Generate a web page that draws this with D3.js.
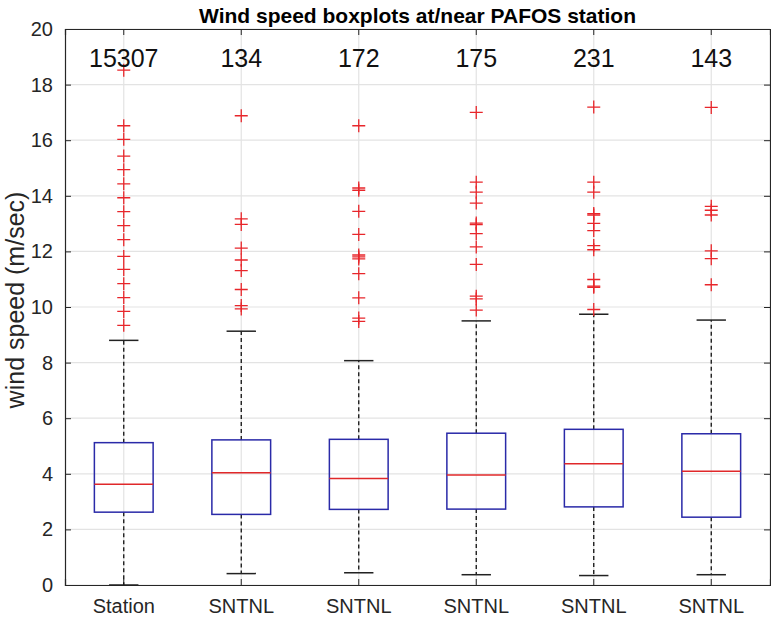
<!DOCTYPE html>
<html>
<head>
<meta charset="utf-8">
<script src="https://cdn.jsdelivr.net/npm/d3@7"></script>
<style>
  body { margin: 0; background: #fff; }
  svg { font-family: "Liberation Sans", Arial, Helvetica, sans-serif; }
</style>
</head>
<body>
<div id="chart"></div>
<script>
// station first, then the five SNTNL grid points
const CATEGORIES = ["Station", "SNTNL", "SNTNL", "SNTNL", "SNTNL", "SNTNL"];
const COUNTS = [15307, 134, 172, 175, 231, 143];

const Q1     = [2.62, 2.54, 2.72, 2.73, 2.81, 2.44];
const MEDIAN = [3.62, 4.04, 3.83, 3.96, 4.36, 4.09];
const Q3     = [5.12, 5.22, 5.24, 5.46, 5.60, 5.44];
const WHISK_LO = [0.0, 0.41, 0.44, 0.37, 0.34, 0.37];
const WHISK_HI = [8.8, 9.13, 8.07, 9.50, 9.74, 9.53];

const OUTLIERS = [
  [18.52, 16.52, 16.03, 15.43, 14.94, 14.43, 13.93, 13.43, 12.93, 12.42, 11.82, 11.35, 10.84, 10.34, 9.84, 9.34],
  [16.88, 13.17, 12.97, 12.12, 11.69, 11.31, 10.63, 10.05, 9.93],
  [16.52, 14.28, 14.2, 13.44, 12.61, 11.87, 11.8, 11.73, 11.2, 10.33, 9.6, 9.48],
  [17.0, 14.49, 14.13, 13.74, 13.02, 12.96, 12.64, 12.16, 11.53, 10.39, 10.29, 9.89],
  [17.19, 14.49, 14.13, 13.36, 13.31, 13.01, 12.75, 12.21, 12.06, 10.99, 10.75, 10.71, 9.91],
  [17.18, 13.62, 13.48, 13.31, 12.02, 11.74, 10.8]
];

const Y_TICKS = [0, 2, 4, 6, 8, 10, 12, 14, 16, 18, 20];

var width = 771, height = 620;
var margin = {left: 65, right: 1, top: 29, bottom: 35};
var plotW = width - margin.left - margin.right;
var plotH = height - margin.top - margin.bottom;

var svg = d3.select("#chart")
  .append("svg")
  .attr("width", width)
  .attr("height", height);

var idx = d3.range(CATEGORIES.length);

var x = d3.scaleBand()
  .domain(idx)
  .range([margin.left, margin.left + plotW])
  .padding(0);

var y = d3.scaleLinear()
  .domain([0, 20])
  .range([margin.top + plotH, margin.top]);

var bw = x.bandwidth();
function cx(i) { return x(i) + bw / 2; }

// grid
var grid = svg.append("g");
grid.selectAll("line.hgrid")
  .data(Y_TICKS)
  .enter()
  .append("line")
  .attr("x1", margin.left).attr("x2", margin.left + plotW)
  .attr("y1", d => y(d)).attr("y2", d => y(d))
  .attr("stroke", "#e3e3e3").attr("stroke-width", 1.2);
grid.selectAll("line.vgrid")
  .data(idx)
  .enter()
  .append("line")
  .attr("x1", d => cx(d)).attr("x2", d => cx(d))
  .attr("y1", margin.top).attr("y2", margin.top + plotH)
  .attr("stroke", "#e3e3e3").attr("stroke-width", 1.2);

// axes
var axisColor = "#262626";
var xLabels = d3.axisBottom(x).tickSize(-6).tickPadding(14)
  .tickFormat(i => CATEGORIES[i]);
var gx = svg.append("g")
  .attr("transform", "translate(0," + (margin.top + plotH) + ")")
  .call(xLabels);
gx.selectAll("text").style("font-size", "20px").attr("fill", "#262626");

var gxTop = svg.append("g")
  .attr("transform", "translate(0," + margin.top + ")")
  .call(d3.axisTop(x).tickSize(-6).tickFormat(""));

var gy = svg.append("g")
  .attr("transform", "translate(" + margin.left + ",0)")
  .call(d3.axisLeft(y).tickValues(Y_TICKS).tickSize(-6).tickPadding(12));
gy.selectAll("text").style("font-size", "20px").attr("fill", "#262626");

var gyRight = svg.append("g")
  .attr("transform", "translate(" + (margin.left + plotW) + ",0)")
  .call(d3.axisRight(y).tickValues(Y_TICKS).tickSize(-6).tickFormat(""));

[gx, gxTop, gy, gyRight].forEach(g => {
  g.select(".domain").attr("stroke", axisColor).attr("stroke-width", 1.2);
  g.selectAll(".tick line").attr("stroke", axisColor).attr("stroke-width", 1);
});

// boxes
var boxes = svg.append("g").selectAll("g")
  .data(idx)
  .enter()
  .append("g");

boxes.append("line")
  .attr("x1", d => cx(d)).attr("x2", d => cx(d))
  .attr("y1", d => y(Q3[d])).attr("y2", d => y(WHISK_HI[d]))
  .attr("stroke", "#111").attr("stroke-width", 1.3)
  .attr("stroke-dasharray", "4,3");
boxes.append("line")
  .attr("x1", d => cx(d)).attr("x2", d => cx(d))
  .attr("y1", d => y(Q1[d])).attr("y2", d => y(WHISK_LO[d]))
  .attr("stroke", "#111").attr("stroke-width", 1.3)
  .attr("stroke-dasharray", "4,3");

boxes.append("line")
  .attr("x1", d => cx(d) - bw / 8).attr("x2", d => cx(d) + bw / 8)
  .attr("y1", d => y(WHISK_HI[d])).attr("y2", d => y(WHISK_HI[d]))
  .attr("stroke", "#222").attr("stroke-width", 1.5);
boxes.append("line")
  .attr("x1", d => cx(d) - bw / 8).attr("x2", d => cx(d) + bw / 8)
  .attr("y1", d => y(WHISK_LO[d])).attr("y2", d => y(WHISK_LO[d]))
  .attr("stroke", "#222").attr("stroke-width", 1.5);

boxes.append("rect")
  .attr("x", d => cx(d) - bw / 4)
  .attr("width", bw / 2)
  .attr("y", d => y(Q3[d]))
  .attr("height", d => y(Q1[d]) - y(Q3[d]))
  .attr("fill", "none")
  .attr("stroke", "#2a2aa8").attr("stroke-width", 1.5);

boxes.append("line")
  .attr("x1", d => cx(d) - bw / 4).attr("x2", d => cx(d) + bw / 4)
  .attr("y1", d => y(MEDIAN[d])).attr("y2", d => y(MEDIAN[d]))
  .attr("stroke", "#e0282a").attr("stroke-width", 1.5);

// outliers as '+'
var pts = [];
OUTLIERS.forEach((arr, i) => arr.forEach(v => pts.push({i: i, v: v})));
var s = 6.5;
svg.append("g").selectAll("path")
  .data(pts)
  .enter()
  .append("path")
  .attr("d", d => {
    var px = cx(d.i), py = y(d.v);
    return "M" + (px - s) + "," + py + "H" + (px + s) + "M" + px + "," + (py - s) + "V" + (py + s);
  })
  .attr("stroke", "#e8262b").attr("stroke-width", 1.3).attr("fill", "none");

// counts
svg.append("g").selectAll("text")
  .data(idx)
  .enter()
  .append("text")
  .attr("x", d => cx(d))
  .attr("y", 67)
  .attr("text-anchor", "middle")
  .style("font-size", "25px")
  .attr("fill", "#111")
  .text(d => COUNTS[d]);

// title and label
svg.append("text")
  .attr("x", margin.left + plotW / 2)
  .attr("y", 23)
  .attr("text-anchor", "middle")
  .style("font-size", "21px")
  .style("font-weight", "bold")
  .attr("fill", "#000")
  .text("Wind speed boxplots at/near PAFOS station");

svg.append("text")
  .attr("transform", "translate(24,300) rotate(-90)")
  .attr("text-anchor", "middle")
  .style("font-size", "25px")
  .attr("fill", "#262626")
  .text("wind speed (m/sec)");
</script>
</body>
</html>
